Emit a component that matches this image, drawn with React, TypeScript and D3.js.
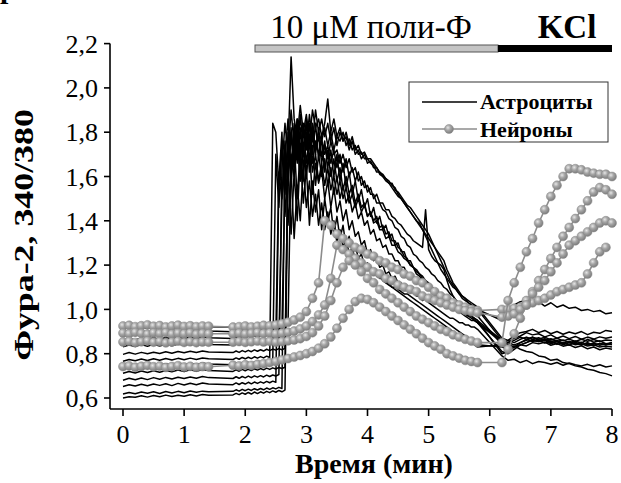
import React from "react";
import * as d3 from "d3";

// ---------- time grids (minutes) ----------
const timeA = d3.range(15).map((i) => i * 0.1); // 0 .. 1.4
const timeB = d3.range(81).map((i) => 1.8 + i * 0.05); // 1.8 .. 5.8 (astrocytes)
const timeBN = d3.range(41).map((i) => 1.8 + i * 0.1); // 1.8 .. 5.8 (neurons)
const timeC = d3.range(19).map((i) => 6.2 + i * 0.1); // 6.2 .. 8.0

const xTicks = [0, 1, 2, 3, 4, 5, 6, 7, 8];
const yTicks = [0.6, 0.8, 1.0, 1.2, 1.4, 1.6, 1.8, 2.0, 2.2];

// ---------- astrocytes (black) ----------
const astroA = [
  [.600,.606,.603,.610,.604,.611,.606,.613,.607,.612,.608,.615,.609,.616,.612],
  [.618,.625,.619,.627,.621,.628,.620,.629,.623,.630,.624,.632,.626,.631,.628],
  [.652,.660,.654,.662,.655,.663,.657,.664,.656,.666,.659,.667,.660,.668,.663],
  [.680,.689,.682,.690,.683,.692,.685,.693,.686,.694,.688,.695,.689,.697,.692],
  [.712,.720,.713,.722,.715,.723,.716,.724,.718,.726,.719,.727,.721,.728,.724],
  [.742,.750,.743,.752,.745,.753,.746,.755,.748,.756,.749,.757,.751,.758,.754],
  [.766,.774,.768,.776,.769,.777,.770,.778,.772,.779,.773,.780,.774,.781,.777],
  [.797,.805,.798,.806,.800,.807,.801,.809,.802,.810,.804,.811,.805,.812,.808],
  [.831,.839,.832,.841,.834,.842,.835,.843,.836,.844,.838,.845,.839,.846,.842],
  [.861,.869,.862,.871,.864,.872,.865,.873,.866,.874,.868,.875,.869,.876,.872],
  [.891,.899,.892,.901,.894,.902,.895,.903,.896,.904,.898,.905,.899,.906,.902],
  [.911,.919,.912,.921,.914,.922,.915,.923,.916,.924,.918,.925,.919,.926,.922],
];

const astroB = [
  [.614,.621,.615,.623,.617,.625,.618,.627,.620,.628,
   .622,.630,.624,.632,.626,.634,.628,.636,1.62,1.78,
   1.66,1.82,1.58,1.74,1.63,1.70,1.52,1.66,1.57,1.63,
   1.50,1.58,1.46,1.55,1.44,1.49,1.40,1.45,1.36,1.40,
   1.33,1.35,1.29,1.31,1.25,1.27,1.22,1.23,1.19,1.20,
   1.16,1.17,1.14,1.15,1.12,1.12,1.10,1.10,1.08,1.08,
   1.06,1.06,1.04,1.05,1.03,1.02,1.01,1.00,0.99,0.98,
   0.97,0.96,0.96,0.95,0.94,0.94,0.93,0.93,0.92,0.92,0.91],
  [.630,.637,.631,.639,.633,.640,.634,.642,.636,.643,
   .637,.645,.639,.646,.641,.648,.643,1.70,1.86,1.62,
   1.80,1.68,1.88,1.72,1.84,1.66,1.78,1.70,1.82,1.69,
   1.76,1.64,1.72,1.60,1.70,1.58,1.66,1.55,1.62,1.52,
   1.58,1.49,1.54,1.46,1.50,1.42,1.46,1.39,1.42,1.36,
   1.38,1.33,1.34,1.29,1.30,1.26,1.26,1.22,1.22,1.19,
   1.18,1.16,1.15,1.13,1.12,1.10,1.09,1.07,1.06,1.05,
   1.04,1.03,1.02,1.01,1.00,0.99,0.98,0.97,0.97,0.96,0.95],
  [.660,.668,.661,.669,.663,.671,.664,.672,.666,.673,
   .667,.675,.669,.676,.671,1.58,1.80,1.42,1.66,1.34,
   1.62,1.40,1.70,1.48,1.64,1.38,1.58,1.44,1.54,1.36,
   1.50,1.40,1.46,1.34,1.42,1.32,1.38,1.28,1.33,1.26,
   1.29,1.23,1.25,1.20,1.21,1.17,1.18,1.15,1.15,1.13,
   1.12,1.11,1.10,1.09,1.08,1.07,1.06,1.05,1.04,1.03,
   1.02,1.01,1.00,0.99,0.98,0.97,0.96,0.95,0.94,0.93,
   0.92,0.91,0.90,0.89,0.88,0.87,0.86,0.85,0.85,0.84,0.83],
  [.688,.696,.689,.697,.691,.699,.692,.700,.694,.701,
   .695,.703,.697,.704,.699,.706,1.64,1.84,1.70,1.90,
   1.74,1.86,1.68,1.80,1.72,1.84,1.66,1.76,1.70,1.78,
   1.62,1.72,1.60,1.68,1.58,1.64,1.54,1.60,1.52,1.56,
   1.48,1.52,1.46,1.48,1.42,1.44,1.39,1.40,1.36,1.36,
   1.32,1.33,1.29,1.29,1.26,1.25,1.23,1.22,1.20,1.19,
   1.17,1.16,1.14,1.13,1.11,1.10,1.09,1.07,1.06,1.05,
   1.04,1.03,1.02,1.01,1.00,0.99,0.98,0.98,0.97,0.96,0.95],
  [.720,.727,.721,.729,.723,.730,.724,.732,.726,.733,
   .727,.735,.729,.736,.731,.738,.733,.739,1.72,2.14,
   1.86,1.78,1.92,1.80,1.88,1.76,1.90,1.82,1.86,1.78,
   1.84,1.95,1.80,1.86,1.78,1.82,1.76,1.80,1.74,1.78,
   1.72,1.74,1.70,1.71,1.68,1.68,1.66,1.64,1.62,1.61,
   1.59,1.58,1.56,1.55,1.52,1.50,1.48,1.46,1.44,1.42,
   1.40,1.39,1.36,1.33,1.30,1.27,1.24,1.21,1.18,1.16,
   1.14,1.12,1.10,1.09,1.07,1.06,1.05,1.03,1.02,1.01,1.00],
  [.750,.757,.751,.759,.753,.760,.754,.762,.756,.763,
   .757,.765,.759,.766,1.70,1.46,1.74,1.52,1.80,1.56,
   1.76,1.50,1.72,1.58,1.80,1.62,1.74,1.56,1.70,1.60,
   1.68,1.56,1.64,1.52,1.60,1.50,1.56,1.48,1.52,1.44,
   1.48,1.41,1.44,1.38,1.40,1.34,1.36,1.31,1.32,1.28,
   1.29,1.25,1.25,1.22,1.22,1.19,1.19,1.16,1.16,1.14,
   1.13,1.12,1.11,1.10,1.09,1.08,1.07,1.06,1.05,1.04,
   1.03,1.02,1.01,1.00,0.99,0.98,0.97,0.96,0.95,0.95,0.94],
  [.774,.781,.775,.783,.777,.784,.778,.786,.780,.787,
   .781,.789,.783,1.84,1.80,1.56,1.74,1.60,1.72,1.62,
   1.78,1.66,1.82,1.70,1.86,1.74,1.84,1.72,1.80,1.76,
   1.82,1.74,1.80,1.72,1.78,1.76,1.80,1.74,1.77,1.72,
   1.74,1.70,1.71,1.68,1.68,1.66,1.65,1.62,1.62,1.60,
   1.59,1.57,1.57,1.54,1.53,1.51,1.49,1.47,1.46,1.44,
   1.42,1.40,1.38,1.36,1.34,1.31,1.28,1.25,1.22,1.19,
   1.16,1.13,1.11,1.09,1.07,1.05,1.04,1.03,1.02,1.01,1.00],
  [.805,.812,.806,.814,.808,.815,.809,.817,.811,.818,
   .812,.820,.814,.821,.816,.823,.818,.824,1.66,1.80,
   1.68,1.86,1.72,1.82,1.66,1.78,1.70,1.84,1.68,1.76,
   1.70,1.74,1.66,1.72,1.64,1.70,1.62,1.68,1.60,1.64,
   1.58,1.62,1.56,1.58,1.53,1.55,1.50,1.52,1.48,1.48,
   1.45,1.45,1.42,1.41,1.39,1.38,1.36,1.34,1.33,1.31,
   1.30,1.29,1.28,1.45,1.27,1.24,1.22,1.21,1.20,1.18,
   1.13,1.09,1.06,1.04,1.03,1.02,1.01,1.00,0.99,0.98,0.97],
  [.839,.846,.840,.848,.842,.849,.843,.851,.845,.852,
   .846,.854,.848,.855,.850,.857,1.50,1.72,1.38,1.62,
   1.32,1.56,1.40,1.64,1.46,1.58,1.42,1.52,1.38,1.48,
   1.36,1.44,1.34,1.40,1.30,1.36,1.28,1.32,1.25,1.28,
   1.22,1.24,1.20,1.21,1.18,1.18,1.16,1.16,1.14,1.14,
   1.12,1.12,1.10,1.10,1.09,1.08,1.07,1.07,1.06,1.05,
   1.04,1.03,1.02,1.01,1.00,0.99,0.98,0.97,0.96,0.95,
   0.94,0.93,0.92,0.91,0.90,0.89,0.88,0.87,0.86,0.85,0.84],
  [.869,.876,.870,.878,.872,.879,.873,.881,.875,.882,
   .876,.884,.878,.885,.880,1.62,1.50,1.76,1.56,1.82,
   1.62,1.78,1.58,1.72,1.60,1.76,1.62,1.70,1.58,1.66,
   1.56,1.64,1.54,1.60,1.52,1.58,1.50,1.55,1.48,1.52,
   1.46,1.50,1.44,1.47,1.42,1.44,1.40,1.42,1.37,1.38,
   1.34,1.35,1.31,1.31,1.28,1.27,1.24,1.23,1.20,1.19,
   1.16,1.15,1.13,1.12,1.10,1.09,1.08,1.07,1.06,1.05,
   1.04,1.03,1.02,1.01,1.00,0.99,0.98,0.97,0.96,0.95,0.94],
  [.899,.906,.900,.908,.902,.909,.903,.911,.905,.912,
   .906,.914,.908,.915,.910,.917,.912,1.58,1.76,1.64,
   1.84,1.70,1.80,1.64,1.76,1.68,1.82,1.72,1.78,1.66,
   1.74,1.68,1.76,1.70,1.72,1.66,1.70,1.64,1.68,1.62,
   1.64,1.58,1.60,1.55,1.56,1.52,1.52,1.48,1.48,1.45,
   1.44,1.41,1.40,1.37,1.36,1.33,1.32,1.29,1.28,1.25,
   1.24,1.22,1.21,1.19,1.18,1.16,1.15,1.13,1.12,1.10,
   1.09,1.07,1.06,1.04,1.03,1.01,1.00,0.98,0.97,0.95,0.94],
  [.919,.926,.920,.928,.922,.929,.923,.931,.925,.932,
   .926,.934,.928,.935,.930,.937,.932,.938,.934,1.70,
   1.60,1.78,1.66,1.84,1.74,1.88,1.76,1.90,1.80,1.86,
   1.78,1.84,1.76,1.82,1.74,1.80,1.76,1.78,1.72,1.76,
   1.70,1.72,1.68,1.70,1.66,1.67,1.64,1.64,1.61,1.60,
   1.58,1.57,1.55,1.53,1.51,1.50,1.48,1.46,1.44,1.42,
   1.40,1.38,1.36,1.34,1.32,1.30,1.28,1.26,1.24,1.22,
   1.18,1.15,1.12,1.10,1.08,1.06,1.05,1.04,1.03,1.02,1.01],
];

const astroC = [
  [.79,.77,.775,.76,.77,.755,.765,.76,.752,.76,.748,.758,.75,.745,.752,.742,.75,.74,.745],
  [.80,.81,.83,.84,.85,.86,.855,.865,.85,.855,.845,.85,.84,.845,.835,.84,.83,.835,.83],
  [.84,.83,.835,.82,.81,.805,.79,.785,.77,.775,.76,.755,.745,.74,.73,.725,.715,.71,.70],
  [.86,.85,.86,.875,.865,.875,.86,.868,.855,.86,.848,.856,.845,.852,.84,.848,.838,.845,.84],
  [.95,1.00,1.02,1.035,1.04,1.025,1.035,1.015,1.03,1.01,1.02,1.005,1.01,.995,1.00,.99,.995,.98,.985],
  [.81,.80,.82,.84,.85,.865,.855,.86,.845,.855,.84,.85,.845,.84,.85,.838,.846,.842,.85],
  [.86,.84,.83,.85,.86,.875,.865,.875,.862,.87,.858,.866,.855,.865,.856,.864,.855,.862,.86],
  [.84,.85,.87,.88,.895,.885,.89,.876,.885,.87,.88,.868,.878,.865,.875,.866,.876,.87,.875],
  [.83,.82,.83,.84,.835,.85,.845,.852,.838,.846,.834,.84,.828,.836,.822,.83,.818,.826,.82],
  [.85,.86,.88,.895,.90,.91,.895,.905,.89,.90,.888,.898,.89,.90,.886,.897,.892,.905,.90],
  [.86,.85,.84,.85,.865,.855,.862,.848,.856,.842,.85,.838,.852,.84,.848,.836,.846,.84,.85],
  [.87,.86,.85,.865,.875,.865,.872,.86,.868,.855,.862,.85,.858,.848,.865,.852,.858,.845,.85],
];

// ---------- neurons (grey with markers) ----------
const neuronA = [
  [.925,.928,.922,.926,.930,.924,.927,.921,.925,.929,.923,.926,.922,.925,.924],
  [.893,.890,.896,.892,.888,.894,.891,.895,.889,.893,.890,.894,.888,.892,.890],
  [.853,.856,.850,.854,.858,.852,.855,.849,.853,.857,.851,.854,.850,.853,.852],
  [.742,.745,.739,.743,.747,.741,.744,.738,.742,.746,.740,.743,.739,.742,.741],
];

const neuronB = [
  [.920,.922,.925,.921,.924,.928,.926,.930,.935,.942,
   .952,.965,.990,1.05,1.12,1.40,1.38,1.34,1.32,1.30,
   1.28,1.27,1.25,1.24,1.22,1.21,1.19,1.18,1.16,1.15,
   1.13,1.12,1.10,1.08,1.06,1.05,1.03,1.02,1.01,1.00,.995],
  [.890,.893,.889,.892,.895,.891,.894,.890,.893,.897,
   .902,.912,.925,.945,.975,1.02,1.14,1.29,1.27,1.25,
   1.23,1.21,1.19,1.17,1.16,1.14,1.13,1.11,1.10,1.09,
   1.08,1.06,1.05,1.04,1.03,1.02,1.01,1.00,.995,.99,.985],
  [.852,.855,.851,.854,.857,.853,.856,.852,.855,.858,
   .862,.868,.878,.895,.925,.97,1.04,1.12,1.19,1.22,
   1.20,1.17,1.14,1.12,1.09,1.07,1.05,1.03,1.01,.99,
   .97,.955,.94,.925,.91,.90,.885,.875,.865,.857,.85],
  [.748,.745,.750,.747,.752,.755,.760,.765,.772,.778,
   .785,.792,.80,.81,.825,.845,.875,.915,.96,1.0,
   1.035,1.05,1.045,1.03,1.01,.99,.97,.95,.93,.91,
   .89,.87,.85,.835,.82,.80,.79,.78,.77,.765,.76],
];

const neuronC = [
  [1.0,1.0,1.005,1.01,1.02,1.03,1.04,1.05,1.065,1.08,1.09,1.10,1.11,1.12,1.16,1.21,1.26,1.28,null],
  [.965,.97,.98,1.0,1.04,1.08,1.13,1.18,1.23,1.28,1.33,1.37,1.41,1.45,1.49,1.53,1.55,1.54,1.52],
  [.85,1.04,1.12,1.19,1.26,1.32,1.39,1.45,1.51,1.56,1.60,1.635,1.635,1.63,1.62,1.615,1.61,1.61,1.60],
  [.76,.82,.89,.96,1.02,1.07,1.10,1.13,1.17,1.21,1.25,1.29,1.31,1.33,1.35,1.37,1.39,1.40,1.39],
];

const serif = "'Liberation Serif', 'Times New Roman', serif";

type Pt = [number, number];

function join(a: number[], b: (number | null)[], c: (number | null)[], tb: number[]): Pt[] {
  const out: Pt[] = [];
  a.forEach((v, i) => out.push([timeA[i], v]));
  b.forEach((v, i) => { if (v != null) out.push([tb[i], v]); });
  c.forEach((v, i) => { if (v != null) out.push([timeC[i], v]); });
  return out;
}

export default function App() {
  const x = d3.scaleLinear().domain([0, 8]).range([123, 612]);
  const y = d3.scaleLinear().domain([0.6, 2.2]).range([398, 43.6]);
  const line = d3.line<Pt>().x((d) => x(d[0])).y((d) => y(d[1]));

  const astros = astroA.map((a, k) => join(a, astroB[k], astroC[k], timeB));
  const neurons = neuronA.map((a, k) => join(a, neuronB[k], neuronC[k], timeBN));

  const fmt = (v: number) => d3.format(".1f")(v).replace(".", ",");
  const axisY = 409;
  const axisX = 110;

  return (
    <svg width={621} height={483} style={{ position: "absolute", left: 0, top: 0, background: "#fff" }}
      fontFamily={serif}>
      <defs>
        <radialGradient id="ball" cx="38%" cy="35%" r="65%">
          <stop offset="0%" stopColor="#e6e6e6" />
          <stop offset="45%" stopColor="#a6a6a6" />
          <stop offset="100%" stopColor="#7c7c7c" />
        </radialGradient>
      </defs>

      {/* cut-off panel letter at the top-left corner */}
      <text x={0} y={-2} fontSize={30} fontWeight="bold">р</text>

      {/* astrocytes */}
      <g fill="none" stroke="#000" strokeWidth={1.5} strokeLinejoin="round">
        {astros.map((p, i) => <path key={i} d={line(p) || ""} />)}
      </g>

      {/* neurons */}
      <g>
        {neurons.map((p, i) => (
          <g key={i}>
            <path d={line(p) || ""} fill="none" stroke="#8c8c8c" strokeWidth={1.6} />
            {p.map((d, j) => (
              <circle key={j} cx={x(d[0])} cy={y(d[1])} r={4.5} fill="url(#ball)" stroke="#8a8a8a" strokeWidth={0.5} />
            ))}
          </g>
        ))}
      </g>

      {/* axes */}
      <g stroke="#000" strokeWidth={1.6}>
        <line x1={axisX} x2={axisX} y1={y(2.2)} y2={axisY} />
        <line x1={axisX} x2={x(8)} y1={axisY} y2={axisY} />
        {yTicks.map((t) => <line key={t} x1={axisX - 6} x2={axisX} y1={y(t)} y2={y(t)} />)}
        {xTicks.map((t) => <line key={t} x1={x(t)} x2={x(t)} y1={axisY} y2={axisY + 7} />)}
      </g>
      <g fontSize={26} fill="#000">
        {yTicks.map((t) => (
          <text key={t} x={axisX - 12} y={y(t)} dy="0.35em" textAnchor="end">{fmt(t)}</text>
        ))}
        {xTicks.map((t) => (
          <text key={t} x={x(t)} y={443} textAnchor="middle">{t}</text>
        ))}
      </g>
      <text x={374} y={473} textAnchor="middle" fontSize={28} fontWeight="bold">Время (мин)</text>
      <text transform="translate(33,235) rotate(-90) scale(1.28,1)" textAnchor="middle" fontSize={28} fontWeight="bold">Фура-2, 340/380</text>

      {/* treatment bars */}
      <rect x={255} y={45} width={243} height={7} fill="#c4c4c4" stroke="#555" strokeWidth={1} />
      <rect x={498} y={45} width={114} height={7} fill="#000" />
      <text x={371} y={38} textAnchor="middle" fontSize={33}>10 μM поли-Ф</text>
      <text x={567} y={38} textAnchor="middle" fontSize={33} fontWeight="bold">KCl</text>

      {/* legend */}
      <rect x={409} y={82} width={199} height={60} fill="#fff" stroke="#333" strokeWidth={1} />
      <line x1={422} x2={477} y1={102} y2={102} stroke="#000" strokeWidth={1.5} />
      <text x={480} y={109} fontSize={22} fontWeight="bold">Астроциты</text>
      <line x1={422} x2={477} y1={129} y2={129} stroke="#8c8c8c" strokeWidth={1.6} />
      <circle cx={449} cy={129} r={4.5} fill="url(#ball)" stroke="#8a8a8a" strokeWidth={0.5} />
      <text x={480} y={137} fontSize={22} fontWeight="bold">Нейроны</text>
    </svg>
  );
}
